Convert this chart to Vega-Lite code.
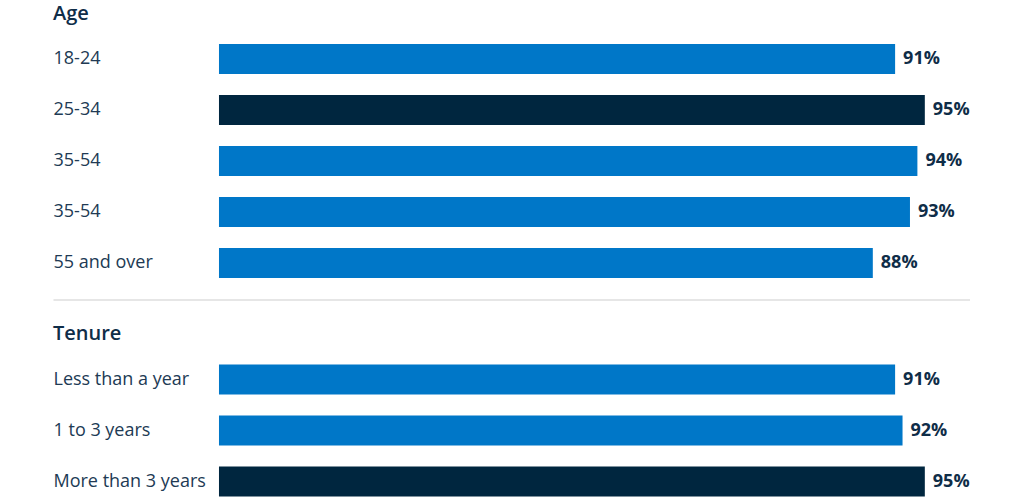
{
  "$schema": "https://vega.github.io/schema/vega-lite/v6.json",
  "padding": {"left": 53, "top": 3.5, "right": 0, "bottom": 0},
  "background": "white",
  "config": {
    "view": {"stroke": null},
    "font": "Open Sans",
    "title": {"anchor": "start", "frame": "bounds", "fontSize": 20, "fontWeight": 600, "color": "#0f2d48", "offset": 10},
    "concat": {"spacing": 24.5}
  },
  "datasets": {
    "age": [
      {"key": "1|18-24", "value": 0.91},
      {"key": "2|25-34", "value": 0.95},
      {"key": "3|35-54", "value": 0.94},
      {"key": "4|35-54", "value": 0.93},
      {"key": "5|55 and over", "value": 0.88}
    ],
    "tenure": [
      {"key": "1|Less than a year", "value": 0.91},
      {"key": "2|1 to 3 years", "value": 0.92},
      {"key": "3|More than 3 years", "value": 0.95}
    ]
  },
  "vconcat": [
    {
      "title": "Age",
      "data": {"name": "age"},
      "width": 917,
      "height": 255,
      "encoding": {
        "y": {
          "field": "key", "type": "nominal", "sort": null,
          "scale": {"paddingInner": 0.41, "paddingOuter": 0.205},
          "axis": {"title": null, "ticks": false, "tickSize": 0, "domain": false, "labelAlign": "left", "labelPadding": 0, "labelFontSize": 18, "labelColor": "#213a54", "labelLimit": 0, "labelExpr": "split(datum.value, '|')[1]"}
        }
      },
      "layer": [
        {
          "mark": {"type": "bar"},
          "encoding": {
            "x": {"field": "value", "type": "quantitative", "scale": {"domain": [-0.2234, 1.0108], "nice": false, "zero": false},
              "axis": {"orient": "bottom", "offset": 11, "domain": true, "domainColor": "#e6e6e6", "domainWidth": 2, "ticks": false, "labels": false, "grid": false, "title": null}},
            "color": {"condition": {"test": "datum.value >= 0.95", "value": "#00263f"}, "value": "#0077c8"}
          }
        },
        {
          "mark": {"type": "text", "align": "left", "baseline": "middle", "dx": 8, "fontWeight": "bold", "fontSize": 18, "color": "#0f2d48"},
          "encoding": {
            "x": {"field": "value", "type": "quantitative"},
            "text": {"field": "value", "type": "quantitative", "format": ".0%"}
          }
        }
      ]
    },
    {
      "title": "Tenure",
      "data": {"name": "tenure"},
      "width": 917,
      "height": 153,
      "encoding": {
        "y": {
          "field": "key", "type": "nominal", "sort": null,
          "scale": {"paddingInner": 0.41, "paddingOuter": 0.205},
          "axis": {"title": null, "ticks": false, "tickSize": 0, "domain": false, "labelAlign": "left", "labelPadding": 0, "labelFontSize": 18, "labelColor": "#213a54", "labelLimit": 0, "labelExpr": "split(datum.value, '|')[1]"}
        }
      },
      "layer": [
        {
          "mark": {"type": "bar"},
          "encoding": {
            "x": {"field": "value", "type": "quantitative", "scale": {"domain": [-0.2234, 1.0108], "nice": false, "zero": false}, "axis": null},
            "color": {"condition": {"test": "datum.value >= 0.95", "value": "#00263f"}, "value": "#0077c8"}
          }
        },
        {
          "mark": {"type": "text", "align": "left", "baseline": "middle", "dx": 8, "fontWeight": "bold", "fontSize": 18, "color": "#0f2d48"},
          "encoding": {
            "x": {"field": "value", "type": "quantitative"},
            "text": {"field": "value", "type": "quantitative", "format": ".0%"}
          }
        }
      ]
    }
  ]
}
